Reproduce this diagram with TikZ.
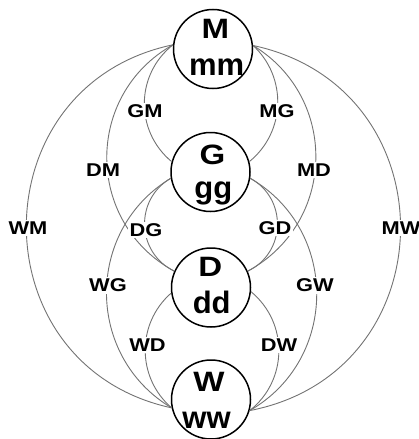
\documentclass[tikz,border=0pt]{standalone}
\usepackage{fontspec}
\newfontfamily\widesans[FakeStretch=1.18]{Liberation Sans}
\newfontfamily\plainsans{Liberation Sans}
\begin{document}
\begin{tikzpicture}[x=1pt,y=1pt,
  state/.style={circle, draw=black, line width=1.5pt, minimum size=79pt, inner sep=0pt},
  link/.style={draw=black!55, line width=0.9pt},
  tag/.style={fill=white, inner sep=1.5pt, font=\widesans\bfseries\fontsize{18.5}{20}\selectfont},
  upper/.style={anchor=base, inner sep=0pt, font=\widesans\bfseries\fontsize{28}{30}\selectfont},
  lower/.style={anchor=base, inner sep=0pt, font=\plainsans\bfseries\fontsize{31}{33}\selectfont}]
\useasboundingbox (0,0) rectangle (419,-439);

% the four states
\node[state] (M) at (213,-49) {};
\node[state] (G) at (210.5,-172) {};
\node[state] (D) at (211,-287.5) {};
\node[state] (W) at (211,-399.5) {};

\node[upper] (Mu) at (215.5,-38.3) {M};
\node[lower] (Ml) at (216.7,-75) {mm};
\node[upper] (Gu) at (212.5,-164.5) {G};
\node[lower] (Gl) at (213.3,-198) {gg};
\node[upper] (Du) at (210.3,-276.7) {D};
\node[lower] (Dl) at (211.7,-313.3) {dd};
\node[upper] (Wu) at (209,-391.7) {W};
\node[lower] (Wl) at (206.5,-428.3) {ww};

% transitions, left side
\draw[link] (M.174) to[bend right=51, looseness=1.05] (G.165);
\draw[link] (M.174) to[bend right=61, looseness=1.15] (D.156);
\draw[link] (M.174) to[bend right=78, looseness=1.40] (W.192.5);
\draw[link] (G.189) to[bend right=62, looseness=1.16] (D.156);
\draw[link] (G.189) to[bend right=59, looseness=1.12] (W.192.5);
\draw[link] (D.188) to[bend right=49, looseness=1.03] (W.192.5);

% transitions, right side
\draw[link] (M.5) to[bend left=49, looseness=1.03] (G.15);
\draw[link] (M.5) to[bend left=60, looseness=1.14] (D.24);
\draw[link] (M.5) to[bend left=78.5, looseness=1.42] (W.344);
\draw[link] (G.351) to[bend left=63, looseness=1.17] (D.24);
\draw[link] (G.351) to[bend left=60, looseness=1.13] (W.344);
\draw[link] (D.354) to[bend left=51, looseness=1.05] (W.344);

% transition labels
\node[tag] (gm) at (145,-111) {GM};
\node[tag] (mg) at (277,-111) {MG};
\node[tag] (dm) at (103,-170) {DM};
\node[tag] (md) at (314,-170) {MD};
\node[tag] (wm) at (28,-228) {WM};
\node[tag] (mw) at (401,-228) {MW};
\node[tag] (dg) at (146,-230) {DG};
\node[tag] (gd) at (275,-228) {GD};
\node[tag] (wg) at (108,-285.5) {WG};
\node[tag] (gw) at (315,-285.5) {GW};
\node[tag] (wd) at (147.5,-345) {WD};
\node[tag] (dw) at (279,-345) {DW};
\end{tikzpicture}
\end{document}
